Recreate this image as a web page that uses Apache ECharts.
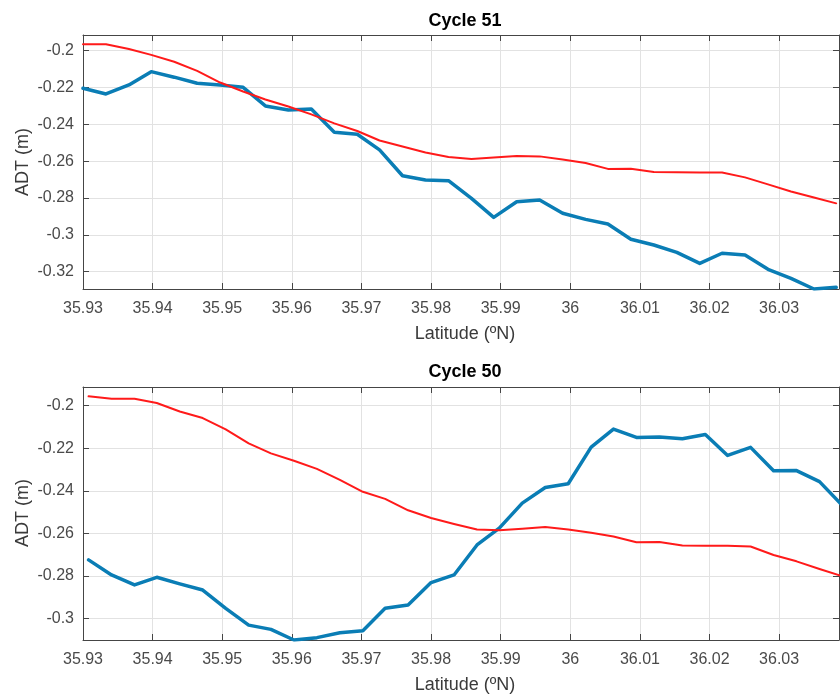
<!DOCTYPE html>
<html>
<head>
<meta charset="utf-8">
<script src="https://cdn.jsdelivr.net/npm/echarts@6/dist/echarts.min.js"></script>
<style>
  html, body { margin: 0; padding: 0; background: #fff; }
  #chart { width: 840px; height: 695px; }
</style>
</head>
<body>
<div id="chart"></div>
<script>
// Along-track latitude samples (ºN)
const lat51 = [35.9300, 35.9333, 35.9366, 35.9398, 35.9431, 35.9464, 35.9497, 35.9530, 35.9562, 35.9595,
               35.9628, 35.9661, 35.9694, 35.9726, 35.9759, 35.9792, 35.9825, 35.9858, 35.9890, 35.9923,
               35.9956, 35.9989, 36.0022, 36.0054, 36.0087, 36.0120, 36.0153, 36.0186, 36.0218, 36.0251,
               36.0284, 36.0317, 36.0350, 36.0382];
const lat50 = [35.9308, 35.9341, 35.9374, 35.9406, 35.9439, 35.9472, 35.9505, 35.9538, 35.9570, 35.9603,
               35.9636, 35.9669, 35.9702, 35.9734, 35.9767, 35.9800, 35.9833, 35.9866, 35.9898, 35.9931,
               35.9964, 35.9997, 36.0030, 36.0062, 36.0095, 36.0128, 36.0161, 36.0194, 36.0226, 36.0259,
               36.0292, 36.0325, 36.0358, 36.0390];

// Cycle 51 ADT (m)
const adt51Blue = [-0.2204, -0.2235, -0.2186, -0.2114, -0.2144, -0.2177, -0.2186, -0.2199, -0.2300, -0.2322,
                   -0.2317, -0.2443, -0.2454, -0.2539, -0.2679, -0.2702, -0.2706, -0.2802, -0.2905, -0.2820,
                   -0.2811, -0.2883, -0.2916, -0.2941, -0.3024, -0.3055, -0.3095, -0.3155, -0.3100, -0.3109,
                   -0.3187, -0.3236, -0.3294, -0.3285];
const adt51Red = [-0.1965, -0.1965, -0.1991, -0.2023, -0.2060, -0.2110, -0.2173, -0.2222, -0.2265, -0.2303,
                  -0.2346, -0.2395, -0.2436, -0.2488, -0.2520, -0.2553, -0.2577, -0.2588, -0.2580, -0.2572,
                  -0.2574, -0.2591, -0.2610, -0.2642, -0.2641, -0.2659, -0.2660, -0.2662, -0.2662, -0.2688,
                  -0.2726, -0.2765, -0.2797, -0.2829];

// Cycle 50 ADT (m)
const adt50Blue = [-0.2725, -0.2796, -0.2843, -0.2807, -0.2838, -0.2867, -0.2953, -0.3032, -0.3052, -0.3102,
                   -0.3091, -0.3068, -0.3058, -0.2953, -0.2937, -0.2832, -0.2796, -0.2655, -0.2576, -0.2458,
                   -0.2385, -0.2367, -0.2195, -0.2110, -0.2149, -0.2147, -0.2155, -0.2135, -0.2234, -0.2196,
                   -0.2306, -0.2305, -0.2357, -0.2466];
const adt50Red = [-0.1956, -0.1967, -0.1967, -0.1987, -0.2027, -0.2058, -0.2111, -0.2177, -0.2224, -0.2259,
                  -0.2297, -0.2349, -0.2405, -0.2438, -0.2492, -0.2528, -0.2556, -0.2582, -0.2586, -0.2579,
                  -0.2571, -0.2582, -0.2598, -0.2615, -0.2642, -0.2641, -0.2658, -0.2659, -0.2659, -0.2662,
                  -0.2702, -0.2732, -0.2768, -0.2801];

const panelTitles = ['Cycle 51', 'Cycle 50'];
const xName = 'Latitude (ºN)';
const yName = 'ADT (m)';

const latRange = [35.93, 36.0386];
const yRanges = [[-0.3294, -0.1915], [-0.3102, -0.1912]];

const FONT = '"Liberation Sans", Arial, Helvetica, sans-serif';
const AXIS_COLOR = '#454545';
const LABEL_COLOR = '#4a4a4a';
const GRID_COLOR = '#e2e2e2';
const BLUE = '#0a7db5';
const RED = '#ff1a1a';

const grids = [
  { left: 83, top: 35, width: 756, height: 254 },
  { left: 83, top: 387, width: 756, height: 253 }
];

const zip = (xs, ys) => xs.map((x, i) => [x, ys[i]]);

function xAxes(gi) {
  const common = {
    type: 'value', gridIndex: gi, min: latRange[0], max: latRange[1],
    minInterval: 0.01, maxInterval: 0.01,
    axisLine: { show: true, onZero: false, lineStyle: { color: AXIS_COLOR, width: 1 } },
    axisTick: { show: true, inside: true, length: 6, lineStyle: { color: AXIS_COLOR } }
  };
  return [
    Object.assign({}, common, {
      position: 'bottom',
      axisLabel: { show: true, margin: 12, color: LABEL_COLOR, fontSize: 16, fontFamily: FONT,
                   showMinLabel: true, showMaxLabel: false },
      splitLine: { show: true, lineStyle: { color: GRID_COLOR, width: 1 } }
    }),
    Object.assign({}, common, {
      position: 'top',
      axisLabel: { show: false },
      splitLine: { show: false }
    })
  ];
}

function yAxes(gi) {
  const common = {
    type: 'value', gridIndex: gi, min: yRanges[gi][0], max: yRanges[gi][1],
    minInterval: 0.02, maxInterval: 0.02,
    axisLine: { show: true, onZero: false, lineStyle: { color: AXIS_COLOR, width: 1 } },
    axisTick: { show: true, inside: true, length: 6, lineStyle: { color: AXIS_COLOR } }
  };
  return [
    Object.assign({}, common, {
      position: 'left',
      axisLabel: { show: true, margin: 9, color: LABEL_COLOR, fontSize: 16, fontFamily: FONT,
                   showMinLabel: false, showMaxLabel: false },
      splitLine: { show: true, lineStyle: { color: GRID_COLOR, width: 1 } }
    }),
    Object.assign({}, common, {
      position: 'right',
      axisLabel: { show: false },
      splitLine: { show: false }
    })
  ];
}

function lineSeries(name, xi, yi, data, color, width, z) {
  return {
    name, type: 'line', xAxisIndex: xi, yAxisIndex: yi, data,
    showSymbol: false, symbol: 'none', smooth: false, z,
    lineStyle: { color, width, join: 'round', cap: 'round' },
    emphasis: { disabled: true }, animation: false
  };
}

function text(str, x, y, opts) {
  return Object.assign({
    type: 'text', x, y, silent: true,
    style: {
      text: str, fill: opts.color || '#000',
      font: opts.font, align: 'center', verticalAlign: 'middle',
      textAlign: 'center', textVerticalAlign: 'middle'
    }
  }, opts.extra || {});
}

const option = {
  backgroundColor: '#ffffff',
  animation: false,
  grid: grids,
  xAxis: [...xAxes(0), ...xAxes(1)],
  yAxis: [...yAxes(0), ...yAxes(1)],
  series: [
    lineSeries('Cycle 51 blue', 0, 0, zip(lat51, adt51Blue), BLUE, 3.5, 3),
    lineSeries('Cycle 51 red', 0, 0, zip(lat51, adt51Red), RED, 2, 4),
    lineSeries('Cycle 50 blue', 2, 2, zip(lat50, adt50Blue), BLUE, 3.5, 3),
    lineSeries('Cycle 50 red', 2, 2, zip(lat50, adt50Red), RED, 2, 4)
  ],
  graphic: [
    text(panelTitles[0], 465, 21, { font: 'bold 18px ' + FONT, color: '#000' }),
    text(panelTitles[1], 465, 372, { font: 'bold 18px ' + FONT, color: '#000' }),
    text(xName, 465, 334, { font: '18px ' + FONT, color: '#3a3a3a' }),
    text(xName, 465, 685, { font: '18px ' + FONT, color: '#3a3a3a' }),
    text(yName, 23, 162, { font: '18px ' + FONT, color: '#3a3a3a', extra: { rotation: Math.PI / 2 } }),
    text(yName, 23, 513, { font: '18px ' + FONT, color: '#3a3a3a', extra: { rotation: Math.PI / 2 } })
  ]
};

const chart = echarts.init(document.getElementById('chart'), null, { renderer: 'canvas' });
chart.setOption(option);
</script>
</body>
</html>
